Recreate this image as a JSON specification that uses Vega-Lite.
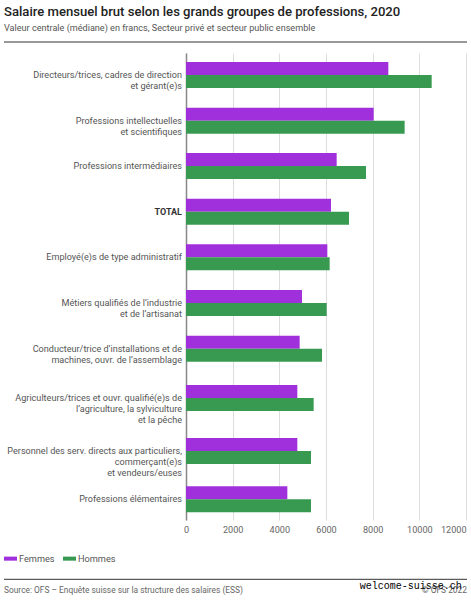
{
  "$schema": "https://vega.github.io/schema/vega-lite/v6.json",
  "description": "Salaire mensuel brut selon les grands groupes de professions, 2020",
  "autosize": "none",
  "padding": {"left": 186, "top": 53, "right": 5, "bottom": 80},
  "width": 280,
  "height": 467,
  "background": "white",
  "config": {"view": {"stroke": null}, "font": "Roboto"},
  "title": {
    "text": "Salaire mensuel brut selon les grands groupes de professions, 2020",
    "subtitle": "Valeur centrale (médiane) en francs, Secteur privé et secteur public ensemble",
    "anchor": "start",
    "frame": "group",
    "dx": -182,
    "offset": 8,
    "font": "Roboto",
    "fontSize": 13.1,
    "fontWeight": 500,
    "color": "#222222",
    "subtitleFont": "Roboto",
    "subtitleFontSize": 9.1,
    "subtitleColor": "#555555",
    "subtitlePadding": 5
  },
  "data": {
    "values": [
      {"rang": 1, "groupe": "Directeurs/trices, cadres de direction\net gérant(e)s", "sexe": "Femmes", "salaire": 8671},
      {"rang": 1, "groupe": "Directeurs/trices, cadres de direction\net gérant(e)s", "sexe": "Hommes", "salaire": 10529},
      {"rang": 2, "groupe": "Professions intellectuelles\net scientifiques", "sexe": "Femmes", "salaire": 8043},
      {"rang": 2, "groupe": "Professions intellectuelles\net scientifiques", "sexe": "Hommes", "salaire": 9371},
      {"rang": 3, "groupe": "Professions intermédiaires", "sexe": "Femmes", "salaire": 6457},
      {"rang": 3, "groupe": "Professions intermédiaires", "sexe": "Hommes", "salaire": 7714},
      {"rang": 4, "groupe": "TOTAL", "sexe": "Femmes", "salaire": 6214},
      {"rang": 4, "groupe": "TOTAL", "sexe": "Hommes", "salaire": 6986},
      {"rang": 5, "groupe": "Employé(e)s de type administratif", "sexe": "Femmes", "salaire": 6057},
      {"rang": 5, "groupe": "Employé(e)s de type administratif", "sexe": "Hommes", "salaire": 6157},
      {"rang": 6, "groupe": "Métiers qualifiés de l’industrie\net de l’artisanat", "sexe": "Femmes", "salaire": 4971},
      {"rang": 6, "groupe": "Métiers qualifiés de l’industrie\net de l’artisanat", "sexe": "Hommes", "salaire": 6029},
      {"rang": 7, "groupe": "Conducteur/trice d’installations et de\nmachines, ouvr. de l’assemblage", "sexe": "Femmes", "salaire": 4871},
      {"rang": 7, "groupe": "Conducteur/trice d’installations et de\nmachines, ouvr. de l’assemblage", "sexe": "Hommes", "salaire": 5829},
      {"rang": 8, "groupe": "Agriculteurs/trices et ouvr. qualifié(e)s de\nl’agriculture, la sylviculture\net la pêche", "sexe": "Femmes", "salaire": 4771},
      {"rang": 8, "groupe": "Agriculteurs/trices et ouvr. qualifié(e)s de\nl’agriculture, la sylviculture\net la pêche", "sexe": "Hommes", "salaire": 5471},
      {"rang": 9, "groupe": "Personnel des serv. directs aux particuliers,\ncommerçant(e)s\net vendeurs/euses", "sexe": "Femmes", "salaire": 4771},
      {"rang": 9, "groupe": "Personnel des serv. directs aux particuliers,\ncommerçant(e)s\net vendeurs/euses", "sexe": "Hommes", "salaire": 5357},
      {"rang": 10, "groupe": "Professions élémentaires", "sexe": "Femmes", "salaire": 4343},
      {"rang": 10, "groupe": "Professions élémentaires", "sexe": "Hommes", "salaire": 5357}
    ]
  },
  "layer": [
    {
      "transform": [{"filter": "datum.sexe === 'Femmes'"}],
      "mark": {"type": "bar", "orient": "horizontal", "size": 13, "yOffset": -6.5},
      "encoding": {
        "y": {
          "field": "rang",
          "type": "quantitative",
          "title": null,
          "scale": {
            "domain": [0, 1, 2, 3, 4, 5, 6, 7, 8, 9, 10, 11],
            "range": [0, 22, 67.7, 113, 158.7, 204.3, 250, 295.7, 345, 398, 446.3, 467],
            "nice": false,
            "zero": false
          },
          "axis": {"domainColor": "#888888", "domainWidth": 1.5, "ticks": false, "labels": false, "grid": false}
        },
        "x": {
          "field": "salaire",
          "type": "quantitative",
          "title": null,
          "stack": null,
          "scale": {"domain": [0, 12000], "nice": false},
          "axis": {
            "values": [0, 2000, 4000, 6000, 8000, 10000, 12000],
            "format": "d",
            "domain": false,
            "ticks": false,
            "grid": true,
            "gridColor": "#dddddd",
            "gridWidth": 1,
            "labelFont": "Roboto",
            "labelFontSize": 9.1,
            "labelColor": "#666666",
            "labelPadding": 5,
            "labelAlign": {"condition": {"test": "datum.value === 12000", "value": "right"}, "value": "center"}
          }
        },
        "color": {
          "field": "sexe",
          "type": "nominal",
          "title": null,
          "scale": {"domain": ["Femmes", "Hommes"], "range": ["#a030dc", "#389a50"]},
          "legend": {
            "orient": "none",
            "legendX": -183,
            "legendY": 498,
            "direction": "horizontal",
            "columns": 2,
            "symbolType": "M-1,-0.31H1V0.31H-1Z",
            "symbolSize": 169,
            "symbolOpacity": 1,
            "labelFont": "Roboto",
            "labelFontSize": 9.2,
            "labelColor": "#555555",
            "labelOffset": 1,
            "columnPadding": 7
          }
        }
      }
    },
    {
      "transform": [{"filter": "datum.sexe === 'Hommes'"}],
      "mark": {"type": "bar", "orient": "horizontal", "size": 13, "yOffset": 6.5},
      "encoding": {
        "y": {"field": "rang", "type": "quantitative"},
        "x": {"field": "salaire", "type": "quantitative", "stack": null},
        "color": {"field": "sexe", "type": "nominal"}
      }
    },
    {
      "transform": [{"filter": "datum.sexe === 'Femmes' && datum.groupe !== 'TOTAL'"}],
      "mark": {"type": "text", "align": "right", "baseline": "middle", "dx": -4, "lineBreak": "\n", "lineHeight": 11.2, "font": "Roboto", "fontSize": 9.1, "color": "#555555"},
      "encoding": {
        "y": {"field": "rang", "type": "quantitative"},
        "x": {"datum": 0, "type": "quantitative"},
        "text": {"field": "groupe"}
      }
    },
    {
      "transform": [{"filter": "datum.sexe === 'Femmes' && datum.groupe === 'TOTAL'"}],
      "mark": {"type": "text", "align": "right", "baseline": "middle", "dx": -4, "font": "Roboto", "fontSize": 9, "fontWeight": "bold", "color": "#333333"},
      "encoding": {
        "y": {"field": "rang", "type": "quantitative"},
        "x": {"datum": 0, "type": "quantitative"},
        "text": {"field": "groupe"}
      }
    },
    {
      "data": {"values": [{"ligne": "haut"}]},
      "mark": {"type": "rule", "color": "#777777", "strokeWidth": 1.5},
      "encoding": {
        "x": {"datum": -7800, "type": "quantitative"},
        "x2": {"datum": 12043},
        "y": {"datum": -0.68, "type": "quantitative"}
      }
    },
    {
      "data": {"values": [{"ligne": "bas"}]},
      "mark": {"type": "rule", "color": "#333333", "strokeWidth": 1},
      "encoding": {
        "x": {"datum": -7800, "type": "quantitative"},
        "x2": {"datum": 12043},
        "y": {"datum": 14.33, "type": "quantitative"}
      }
    },
    {
      "data": {"values": [{"texte": "Source: OFS – Enquête suisse sur la structure des salaires (ESS)"}]},
      "mark": {"type": "text", "align": "left", "baseline": "middle", "font": "Roboto", "fontSize": 8.4, "color": "#666666"},
      "encoding": {
        "x": {"datum": -7800, "type": "quantitative"},
        "y": {"datum": 14.89, "type": "quantitative"},
        "text": {"field": "texte"}
      }
    },
    {
      "data": {"values": [{"texte": "© OFS 2022"}]},
      "mark": {"type": "text", "align": "right", "baseline": "middle", "font": "Roboto", "fontSize": 8.4, "color": "#666666"},
      "encoding": {
        "x": {"datum": 12043, "type": "quantitative"},
        "y": {"datum": 14.89, "type": "quantitative"},
        "text": {"field": "texte"}
      }
    },
    {
      "data": {"values": [{"texte": "welcome-suisse.ch"}]},
      "mark": {"type": "text", "align": "right", "baseline": "middle", "font": "Liberation Mono", "fontSize": 10, "color": "#000000"},
      "encoding": {
        "x": {"datum": 11816, "type": "quantitative"},
        "y": {"datum": 14.7, "type": "quantitative"},
        "text": {"field": "texte"}
      }
    }
  ]
}
